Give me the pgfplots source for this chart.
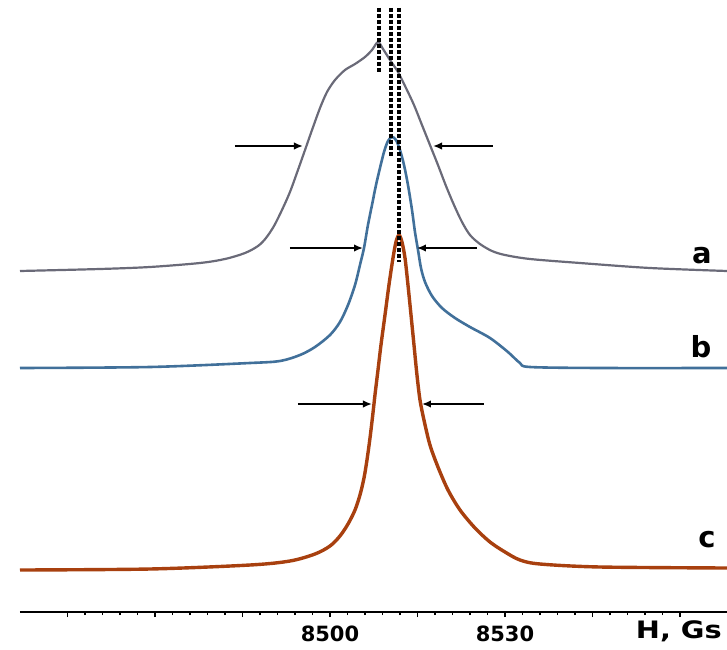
\documentclass[border=0pt]{standalone}
\usepackage{fontspec}
\setmainfont{DejaVu Sans}
\usepackage{graphicx}
\usepackage{pgfplots}
\pgfplotsset{compat=1.18}
\usetikzlibrary{arrows.meta}
\definecolor{cA}{HTML}{6A6A78}
\definecolor{cB}{HTML}{41709A}
\definecolor{cC}{HTML}{A8400F}
\begin{document}
\begin{tikzpicture}
\begin{axis}[
  scale only axis, width=353.5pt, height=306pt,
  xmin=8446.86, xmax=8568.06, ymin=0, ymax=612,
  clip=false,
  hide y axis,
  axis x line*=bottom,
  x axis line style={-, line width=1.4pt, black},
  xtick={8455,8470,8485,8500,8515,8530,8545,8560},
  xticklabels={,,,\textbf{8500},,\textbf{8530},,},
  minor x tick num=4,
  tick align=outside,
  major tick length=2.6pt, minor tick length=1.6pt,
  tick style={black, line width=0.8pt},
  xticklabel style={font=\fontsize{10.5}{12}\selectfont, yshift=-1pt},
]
% curve a
\addplot[cA, line width=1.1pt, smooth, tension=0.5] coordinates {
(8446.86,341) (8460.57,343) (8469.14,345) (8477.71,349) (8482.00,353)
(8485.43,359) (8487.66,366) (8489.03,374) (8490.40,386) (8491.77,402)
(8493.14,420) (8494.51,442) (8495.72,462) (8496.92,482) (8498.29,504)
(8499.49,520) (8500.86,532) (8502.57,542) (8504.29,548) (8506.00,555)
(8507.20,562) (8508.23,570) (8509.09,563) (8510.29,552) (8511.66,540)
(8513.03,524) (8514.40,507) (8515.77,487) (8517.14,467) (8518.51,447)
(8519.89,426) (8521.26,407) (8522.63,390) (8524.00,377) (8525.71,368)
(8527.77,361) (8530.00,357) (8534.29,353) (8542.86,349) (8554.86,344)
(8568.06,341)
};
% curve b
\addplot[cB, line width=1.3pt, smooth, tension=0.5] coordinates {
(8446.86,244) (8469.14,245) (8486.29,249) (8491.43,251) (8494.86,257)
(8497.43,265) (8500.00,277) (8501.71,290) (8503.09,307) (8504.29,327)
(8505.14,347) (8505.83,364) (8506.51,387) (8507.20,407) (8507.89,427)
(8508.57,444) (8509.26,460) (8509.94,471) (8510.63,475) (8511.31,472)
(8512.00,462) (8512.69,447) (8513.37,427) (8514.06,402) (8514.57,380)
(8515.09,362) (8515.60,344) (8516.29,330) (8517.49,316) (8519.20,304)
(8521.43,294) (8524.00,285) (8527.43,274) (8530.51,260) (8532.57,249)
(8534.29,245) (8546.29,244) (8568.06,244)
};
% curve c
\addplot[cC, line width=1.7pt, smooth, tension=0.5] coordinates {
(8446.86,42) (8469.14,43) (8486.29,47) (8493.14,51) (8497.43,58)
(8500.00,66) (8501.71,76) (8503.09,88) (8504.29,102) (8505.14,117)
(8505.83,134) (8506.34,152) (8506.86,174) (8507.37,199) (8507.71,217)
(8508.23,242) (8508.74,267) (8509.43,297) (8510.11,327) (8510.80,354)
(8511.31,370) (8511.83,377) (8512.34,370) (8512.86,354) (8513.37,327)
(8513.89,297) (8514.40,267) (8514.91,237) (8515.43,212) (8516.11,192)
(8517.14,167) (8518.51,145) (8520.23,122) (8522.29,102) (8524.86,84)
(8527.43,70) (8530.00,60) (8532.57,52) (8536.00,48) (8546.29,45)
(8568.06,44)
};
% dashed guide lines
\addplot[black, line width=1.6pt, dash pattern=on 2pt off 1pt] coordinates {(8508.4,604) (8508.4,540)};
\addplot[black, line width=1.6pt, dash pattern=on 2pt off 1pt] coordinates {(8510.46,604) (8510.46,455)};
\addplot[black, line width=1.6pt, dash pattern=on 2pt off 1pt] coordinates {(8511.83,604) (8511.83,350)};
% width arrows
\addplot[black, line width=1pt, -{Latex[length=4.5pt,width=3.8pt]}] coordinates {(8483.71,466) (8495.37,466)};
\addplot[black, line width=1pt, -{Latex[length=4.5pt,width=3.8pt]}] coordinates {(8527.94,466) (8517.66,466)};
\addplot[black, line width=1pt, -{Latex[length=4.5pt,width=3.8pt]}] coordinates {(8493.14,364) (8505.66,364)};
\addplot[black, line width=1pt, -{Latex[length=4.5pt,width=3.8pt]}] coordinates {(8525.2,364) (8514.91,364)};
\addplot[black, line width=1pt, -{Latex[length=4.5pt,width=3.8pt]}] coordinates {(8494.51,208) (8507.2,208)};
\addplot[black, line width=1pt, -{Latex[length=4.5pt,width=3.8pt]}] coordinates {(8526.4,208) (8515.77,208)};
% labels
\node[font=\bfseries\fontsize{14.5}{16}\selectfont] at (axis cs:8563.77,356) {a};
\node[font=\bfseries\fontsize{14.5}{16}\selectfont] at (axis cs:8563.60,265) {b};
\node[font=\bfseries\fontsize{14.5}{16}\selectfont] at (axis cs:8564.63,72) {c};
\node[font=\bfseries\fontsize{12}{14}\selectfont] at (axis cs:8559.8,-19.5) {\scalebox{1.2}[1]{H, Gs}};
\end{axis}
\pgfresetboundingbox
\path (-10pt,-18.5pt) rectangle (353.5pt,306pt);
\end{tikzpicture}
\end{document}
